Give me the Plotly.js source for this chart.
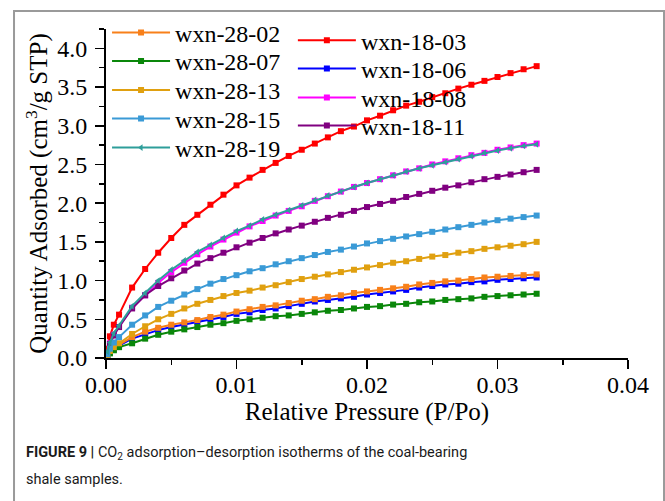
<!DOCTYPE html>
<html>
<head>
<meta charset="utf-8">
<script src="https://cdn.plot.ly/plotly-3.0.1.min.js"></script>
<style>
html,body{margin:0;padding:0;background:#fff;}
#chart{width:665px;height:501px;}
</style>
</head>
<body>
<div id="chart"></div>
<script>
// Relative pressure (P/Po)
const pressure = [0.0001,0.0003,0.0006,0.001,0.002,0.003,0.004,0.005,0.006,0.007,0.008,0.009,0.010,0.011,0.012,0.013,0.014,0.015,0.016,0.017,0.018,0.019,0.020,0.021,0.022,0.023,0.024,0.025,0.026,0.027,0.028,0.029,0.030,0.031,0.032,0.033];

// Quantity adsorbed (cm3/g STP)
const wxn_18_03 = [0.12,0.28,0.43,0.56,0.91,1.15,1.36,1.55,1.72,1.85,1.98,2.11,2.23,2.33,2.43,2.52,2.61,2.69,2.77,2.85,2.93,2.99,3.07,3.13,3.20,3.26,3.31,3.37,3.42,3.48,3.53,3.58,3.63,3.68,3.73,3.77];
const wxn_18_06 = [0.03,0.07,0.11,0.16,0.25,0.31,0.36,0.40,0.43,0.47,0.50,0.53,0.57,0.59,0.62,0.64,0.67,0.70,0.73,0.75,0.77,0.79,0.82,0.84,0.86,0.88,0.91,0.93,0.95,0.96,0.98,0.99,1.01,1.02,1.03,1.04];
const wxn_18_08 = [0.07,0.19,0.30,0.40,0.65,0.81,0.97,1.11,1.23,1.34,1.44,1.53,1.62,1.70,1.77,1.84,1.90,1.96,2.03,2.09,2.15,2.21,2.26,2.31,2.36,2.41,2.45,2.50,2.54,2.58,2.62,2.65,2.69,2.72,2.75,2.77];
const wxn_18_11 = [0.07,0.18,0.29,0.40,0.64,0.81,0.93,1.03,1.13,1.22,1.29,1.36,1.43,1.49,1.55,1.61,1.66,1.71,1.76,1.81,1.85,1.90,1.95,1.99,2.03,2.08,2.12,2.16,2.20,2.23,2.27,2.31,2.34,2.37,2.40,2.43];
const wxn_28_02 = [0.03,0.08,0.12,0.17,0.27,0.34,0.39,0.43,0.46,0.49,0.53,0.56,0.60,0.63,0.66,0.68,0.71,0.74,0.76,0.79,0.81,0.84,0.86,0.88,0.90,0.92,0.95,0.97,0.99,1.00,1.02,1.04,1.05,1.06,1.07,1.08];
const wxn_28_07 = [0.02,0.06,0.10,0.14,0.19,0.25,0.30,0.34,0.37,0.40,0.43,0.45,0.48,0.50,0.52,0.54,0.55,0.57,0.59,0.61,0.62,0.64,0.66,0.67,0.69,0.70,0.72,0.73,0.75,0.76,0.77,0.79,0.80,0.81,0.82,0.83];
const wxn_28_13 = [0.03,0.09,0.14,0.19,0.31,0.41,0.50,0.57,0.64,0.70,0.75,0.80,0.84,0.87,0.91,0.94,0.98,1.02,1.05,1.08,1.11,1.14,1.17,1.20,1.23,1.25,1.28,1.31,1.33,1.36,1.38,1.41,1.43,1.45,1.47,1.50];
const wxn_28_15 = [0.05,0.12,0.20,0.27,0.43,0.55,0.66,0.74,0.82,0.89,0.96,1.02,1.07,1.12,1.16,1.21,1.25,1.29,1.33,1.37,1.40,1.44,1.48,1.51,1.54,1.57,1.60,1.63,1.66,1.69,1.72,1.75,1.78,1.80,1.82,1.84];
const wxn_28_19 = [0.08,0.20,0.32,0.42,0.67,0.84,1.00,1.14,1.26,1.37,1.46,1.55,1.64,1.71,1.79,1.85,1.91,1.97,2.04,2.10,2.15,2.21,2.26,2.31,2.36,2.41,2.45,2.49,2.53,2.57,2.61,2.65,2.68,2.71,2.74,2.76];

const seriesNames = ['wxn-18-03','wxn-18-06','wxn-18-08','wxn-18-11','wxn-28-02','wxn-28-07','wxn-28-13','wxn-28-15','wxn-28-19'];
const seriesValues = [wxn_18_03,wxn_18_06,wxn_18_08,wxn_18_11,wxn_28_02,wxn_28_07,wxn_28_13,wxn_28_15,wxn_28_19];
const seriesColors = ['#FF0000','#0000FF','#FF00FF','#800080','#F8801A','#0A870A','#E0A010','#3A9AD6','#2E9E9A'];
const seriesSymbols = ['square','square','square','square','square','square','square','square','triangle-left'];

const xTickLabels = ['0.00','0.01','0.02','0.03','0.04'];
const xTickVals = [0,0.01,0.02,0.03,0.04];
const yTickLabels = ['0.0','0.5','1.0','1.5','2.0','2.5','3.0','3.5','4.0'];
const yTickVals = [0,0.5,1.0,1.5,2.0,2.5,3.0,3.5,4.0];

const serif = 'Liberation Serif, Times New Roman, serif';
const captionFont = 'Roboto, Liberation Sans, Arial, sans-serif';

// one legend box per series so the two-column legend rows can be placed like the original
const legendIds = ['legend6','legend7','legend8','legend9','legend','legend2','legend3','legend4','legend5'];
const legendX = [0.358,0.358,0.358,0.358,0.002,0.002,0.002,0.002,0.002];
const legendY = [1.0297,0.9439,0.8561,0.7715,1.0530,0.9670,0.8791,0.7924,0.7045];

const traces = seriesNames.map((n,i) => ({
  type:'scatter', mode:'lines+markers', name:n,
  x: pressure, y: seriesValues[i],
  line:{color:seriesColors[i], width:2},
  marker:{color:seriesColors[i], size:6, symbol:seriesSymbols[i]},
  legend: legendIds[i]
}));

const axisCommon = {
  showline:true, linecolor:'#000', linewidth:2, mirror:false,
  ticks:'outside', ticklen:9, tickwidth:1.5, tickcolor:'#000',
  showgrid:false, zeroline:false,
  tickfont:{family:serif, size:24, color:'#000'}
};

const layout = {
  width:665, height:501,
  margin:{l:106, r:37, t:28, b:143},
  paper_bgcolor:'#fff', plot_bgcolor:'#fff',
  showlegend:true,
  xaxis: Object.assign({}, axisCommon, {
    range:[0,0.04], tickvals:xTickVals, ticktext:xTickLabels, ticklabelstandoff:-5,
    minor:{tickvals:[0.005,0.015,0.025,0.035], ticklen:5, tickwidth:1.5, tickcolor:'#000', ticks:'outside'},
    title:{text:'Relative Pressure (P/Po)', font:{family:serif, size:25, color:'#000'}, standoff:0}
  }),
  yaxis: Object.assign({}, axisCommon, {
    range:[0,4.25], tickvals:yTickVals, ticktext:yTickLabels, ticklabelstandoff:3,
    minor:{dtick:0.25, ticklen:5, tickwidth:1.5, tickcolor:'#000', ticks:'outside'},
    title:{text:'Quantity Adsorbed (cm<sup>3</sup>/g STP)', font:{family:serif, size:25, color:'#000'}, standoff:2}
  }),
  shapes:[
    {type:'rect', xref:'paper', yref:'paper', x0:-0.1762, x1:1.069, y0:-0.49, y1:1.0545,
     line:{color:'#9a9a9a', width:2}, fillcolor:'rgba(0,0,0,0)', layer:'below'}
  ],
  annotations:[
    {xref:'paper', yref:'paper', x:-0.157, y:-0.288, xanchor:'left', yanchor:'middle', showarrow:false,
     text:'<b>FIGURE 9 |</b> CO<sub>2</sub> adsorption–desorption isotherms of the coal-bearing',
     font:{family:captionFont, size:14.5, color:'#1a1a1a'}},
    {xref:'paper', yref:'paper', x:-0.157, y:-0.370, xanchor:'left', yanchor:'middle', showarrow:false,
     text:'shale samples.',
     font:{family:captionFont, size:14.5, color:'#1a1a1a'}}
  ]
};

legendIds.forEach((id,i) => {
  layout[id] = {
    x:legendX[i], y:legendY[i], xanchor:'left', yanchor:'top',
    bgcolor:'rgba(0,0,0,0)', borderwidth:0, itemwidth:58,
    font:{family:serif, size:24, color:'#000'}
  };
});

Plotly.newPlot('chart', traces, layout, {displayModeBar:false, staticPlot:true});
</script>
</body>
</html>
